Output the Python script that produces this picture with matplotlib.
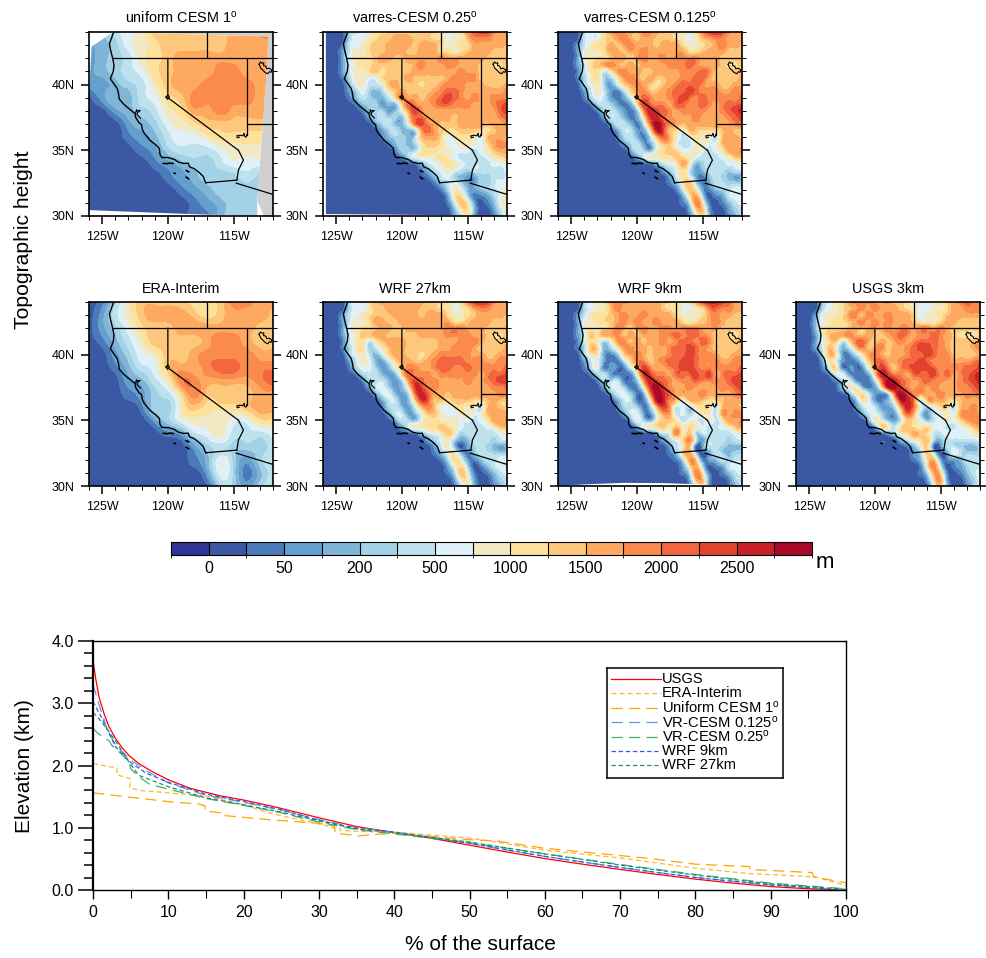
import numpy as np
import matplotlib
matplotlib.use('Agg')
import matplotlib.pyplot as plt
import matplotlib.tri as mtri
from matplotlib.colors import ListedColormap, BoundaryNorm
from matplotlib.cm import ScalarMappable
from matplotlib.patches import Polygon

plt.rcParams['font.family'] = ['Liberation Sans', 'DejaVu Sans']
plt.rcParams['mathtext.fontset'] = 'custom'
plt.rcParams['mathtext.rm'] = 'Liberation Sans'
plt.rcParams['mathtext.default'] = 'rm'

# colour classes of the height scale, one char per class in the grids below
CLASSES = '0123456789abcdefg'
colors = ['#2f3592', '#3b58a4', '#4a7ab7', '#659fcd', '#80b5d8', '#a3d2e6', '#bde2ee', '#dff1f7',
          '#f0e9c3', '#fde19a', '#fec87c', '#fdaa60', '#fb8a4d', '#f4663f', '#e2432e', '#c92226', '#a90a28']
cbar_labels = ['0', '50', '200', '500', '1000', '1500', '2000', '2500']

# 1 degree grids, rows from 44N down to 30N, columns 126W to 112W
uniform_cesm = ['34678aaaaaabbcc', '345789aaaaabbbb', '345689abbbbbbbb', '345679abbbccbbb', '334568abbccccbb',
                '1344679acccccbb', '11345689bbcbbbb', '111345789aaaaaa', '111234677899999', '111123566678888',
                '111112345567777', '111111234555655', '111111123455555', '111111112345555', '111111112245555']
era_interim = ['1258aaaa99accbb', '1368abbba9abbba', '13579aabbbbbbaa', '12468aaaabccbaa', '113578aabccccbb',
               '112467abbcddccc', '1113468ccbbbbcd', '11123569caaaabb', '11112558a999abb', '111113578887799',
               '111111236786667', '111111113565556', '111111112475356', '111111111375246', '111111111155356']

# half degree grids, same order
varres_025 = [
    '1111 5678 99aa aaaa a988 89bd eecbb', '1111 5778 9aab bbaa a997 88ac ccbbb',
    '1112 6789 aabb bbab bb98 899b bbbba', '1113 6889 aabb baab bb99 89ab bbaaa',
    '1113 7899 abba abbb bbcb bbbb baaaa', '1113 6899 aaaa aabc bbbc cbbb aa99a',
    '1113 6889 a9aa aabb bbbb bcbb aaaaa', '1112 5887 79aa abaa aaab cccc aaaaa',
    '1111 4786 67ab aaa9 aabc ccbb baaab', '1111 3575 458a baaa abcd dcbb bbbbc',
    '1111 2465 4469 cbba bcde dcbc bbccc', '1111 1245 5344 9dcb bcdd cccb bbcde',
    '1111 1124 5534 7bec bbbb bbbb bbbde', '1111 1113 5655 49dd bbbb abbb bbbcd',
    '1111 1111 3564 47ce cbaa abbb babbc', '1111 1111 1356 445b dba9 9aaa 99abb',
    '1111 1111 1245 545a bb97 8998 7abba', '1111 1111 1124 5458 aa97 7888 79bcb',
    '1111 1111 1112 5558 9988 7776 78abb', '1111 1111 1111 2578 8898 7666 6789a',
    '1111 1111 1111 1124 6789 8766 66778', '1111 1111 1111 1112 4678 7656 66667',
    '1111 1111 1111 1111 2467 5433 55667', '1111 1111 1111 1111 1246 7533 55677',
    '1111 1111 1111 1111 1125 8743 45678', '1111 1111 1111 1111 1113 8952 23578',
    '1111 1111 1111 1111 1112 6a83 12478', '1111 1111 1111 1111 1111 4894 11368',
    '1111 1111 1111 1111 1111 3693 11258']
varres_0125 = [
    '1111 5779 bcbb accb aa98 89ce fecbb', '1111 6779 abcb abba aa98 78ab ccbbb',
    '1113 6899 babc bbba bbb9 889a bcbba', '1113 7889 bbab bcbb bbbb 99ab bbaaa',
    '1113 7899 abba bcbb cbcc ccbb baaaa', '1113 69ab cbab abbb bccc dcbb ba99a',
    '1112 6896 8bcb baab bbbc ccdc aaaaa', '1112 5895 58bc baba abbc cddb aaaab',
    '1111 5785 369b cba9 abcd ddcb baabb', '1111 3686 3259 bcaa bcdd edcc cbbcc',
    '1111 2576 3236 adcb bcde dcdc ccccd', '1111 1256 5323 8edc cbdd ccdc bcdde',
    '1111 1125 6532 4bfe dcbc cccb bcdef', '1111 1113 6642 38ef dcbb bcbb bbcde',
    '1111 1111 3664 25cg ecba bbbb bbbcd', '1111 1111 1366 338f ea97 aa99 9abaa',
    '1111 1111 1256 425a db86 7988 6abba', '1111 1111 1135 6337 aa76 6887 7abbb',
    '1111 1111 1113 6537 9a97 7876 78bbc', '1111 1111 1111 3688 99a9 8766 678aa',
    '1111 1111 1111 1124 678b 8456 66778', '1111 1111 1111 1111 3579 6346 66566',
    '1111 1111 1111 1111 1369 7324 65434', '1111 1111 1111 1111 1248 a523 66555',
    '1111 1111 1111 1111 1126 a832 45677', '1111 1111 1111 1111 1113 8b51 23677',
    '1111 1111 1111 1111 1112 5c82 12467', '1111 1111 1111 1111 1111 39a3 11356',
    '1111 1111 1111 1111 1111 2694 11246']
wrf_27 = [
    '1111 6779 abbb bbbb aa98 89ce fecbb', '1111 5778 aabb bbba aa99 789b ccbbb',
    '1113 6789 aaab bbba bbb9 889a bbbba', '1113 6889 bbaa bbbb bbbb 99ab bbaaa',
    '1113 7899 abba abbb bbbc ccbb baaaa', '1113 68aa bbaa aaab bbbc cccb ba99a',
    '1112 6896 8abb baaa aabb bccc baaaa', '1112 5895 68ab baaa aabb cccb aaaab',
    '1111 5786 469b baa9 abcc cccb baabb', '1111 3687 4369 bbaa bcdd ddcc cbbcc',
    '1111 2577 5347 accb bcdd ccdc ccccd', '1111 1256 6434 9dcc cbcc cccc bcdde',
    '1111 1125 6643 5bed ccbb bbcb bcdee', '1111 1113 6753 48ee ccbb bbbb bbccd',
    '1111 1111 3674 35cf dbba bbbb bbbcc', '1111 1111 1366 349e daa9 aaa9 9abaa',
    '1111 1111 1256 436a ca77 8988 6abaa', '1111 1111 1136 6347 aa87 7887 7abbb',
    '1111 1111 1113 6547 9988 8776 78bbc', '1111 1111 1111 3688 99a9 8766 678aa',
    '1111 1111 1111 1124 678a 8566 66678', '1111 1111 1111 1111 3578 5346 66566',
    '1111 1111 1111 1111 1368 4135 65434', '1111 1111 1111 1111 1247 8424 66555',
    '1111 1111 1111 1111 1125 9732 46677', '1111 1111 1111 1111 1113 7951 24677',
    '1111 1111 1111 1111 1112 5a72 12467', '1111 1111 1111 1111 1111 3883 11356',
    '1111 1111 1111 1111 1111 2584 11246']
wrf_9 = [
    '1111 6789 bccb bbbb a989 9bef fedbb', '1111 5788 acbb bbbb a997 789c dccbb',
    '1113 6899 abcb bcbb bb98 889b cbbaa', '1113 7899 abcb cbbc bbb9 89ab cbaaa',
    '1113 7889 acba bcbb ccbc ccbb baaaa', '1113 6a9b bcab abbb ccdc ddcb aa99a',
    '1112 6985 7bca babb cbcd dcdc aaaaa', '1112 5a94 58bc bbab bcdd edcb aaaab',
    '1111 5883 249b cbab bcdd edcc baabb', '1111 3673 2259 ccab cdde edcc cbbcc',
    '1111 2572 3226 aecb bcde edcc ccccd', '1111 1256 3222 7eec cbdd dede bcdde',
    '1111 1125 5622 4bfe dcbc cdcc ccdee', '1111 1113 6752 27eg ecbb cbbb bccde',
    '1111 1111 3675 23bg fdbb bbcb bbbcd', '1111 1111 1366 227f fca7 aba9 9abbb',
    '1111 1111 1256 524a eb67 5899 6abba', '1111 1111 1136 7327 bb67 5788 6bbcb',
    '1111 1111 1113 7537 aa86 7768 68bbc', '1111 1111 1111 3789 a8a8 9876 678ab',
    '1111 1111 1111 1113 67c8 a566 66678', '1111 1111 1111 1111 3579 c636 66566',
    '1111 1111 1111 1111 1368 a136 65444', '1111 1111 1111 1111 1249 b413 65455',
    '1111 1111 1111 1111 1125 b923 46566', '1111 1111 1111 1111 1113 8b51 23677',
    '1111 1111 1111 1111 1112 5c82 12467', '1111 1111 1111 1111 1111 3aa3 11256',
    '1111 1111 1111 1111 1111 26a3 11246']
usgs_3 = [
    '1111 5789 bcbc bbca a988 789a bcdcc', '1111 5789 abcb cbbb a987 7889 bbccc',
    '1113 7889 bcac bbcb bb97 889a bbbbb', '1114 7899 abcb cbcb bba8 889b baaaa',
    '1114 8999 abab bbcb ccbc cbcb aaaaa', '1113 7abb cbab aabc dcbc cdcb a998a',
    '1113 79a6 8cdb abab cbcd ddcb aaaab', '1113 6a84 59ca bcab bcde edcb aaabc',
    '1111 5a93 258b cbab bcdd edcc aaaab', '1111 3873 2259 cdbb cdde dccc bbbcd',
    '1111 2692 2227 beca cdee edcc ccdde', '1111 1267 3223 9fec cbdd decd bcdef',
    '1111 1125 7322 5cgf dcbc dccb bcdef', '1111 1114 7842 38fg ecbc bcbb bccde',
    '1111 1111 3796 324c gecb bbcb bbccd', '1111 1111 1387 3248 ffc6 abba 9abbb',
    '1111 1111 1257 6335 bfc7 5799 6abca', '1111 1111 1136 7533 8da5 3678 7bccb',
    '1111 1111 1113 8743 6a97 4678 79bcc', '1111 1111 1111 3986 9a98 9776 678ab',
    '1111 1111 1111 1135 89ba 9667 77789', '1111 1111 1111 1111 4689 a546 66667',
    '1111 1111 1111 1111 1247 9126 65445', '1111 1111 1111 1111 1135 a513 76555',
    '1111 1111 1111 1111 1124 9a32 34666', '1111 1111 1111 1111 1112 8c61 23566',
    '1111 1111 1111 1111 1112 5b92 12467', '1111 1111 1111 1111 1111 39b3 11357',
    '1111 1111 1111 1111 1111 17a4 11257']

# outlines
coast_lon = [-124.12, -124.3, -124.45, -124.35, -124.2, -124.1, -124.15, -124.38, -124.1, -123.85, -123.75, -123.7,
             -123.35, -123.0, -122.75, -122.5, -122.45, -122.2, -122.0, -121.95, -121.8, -121.35, -120.9, -120.65,
             -120.6, -120.45, -120.0, -119.5, -119.2, -118.8, -118.45, -118.35, -118.0, -117.6, -117.3, -117.2, -117.12]
coast_lat = [44, 43.5, 43.1, 42.6, 42, 41.5, 41, 40.45, 40.05, 39.7, 39.3, 38.9,
             38.5, 38.2, 38.0, 37.8, 37.5, 37.1, 36.95, 36.6, 36.3, 35.75, 35.4, 35.15,
             34.7, 34.45, 34.45, 34.3, 34.1, 34.0, 34.02, 33.75, 33.6, 33.3, 33.0, 32.7, 32.53]
borders = [
    ([-124.2, -112], [42, 42]),
    ([-117, -117], [42, 44]),
    ([-120, -120, -114.63], [42, 39, 35]),
    ([-114, -114], [42, 36.2]),
    ([-114, -112], [37, 37]),
    ([-114.63, -114.25, -114.63, -114.75], [35, 34.25, 33.5, 32.73]),
    ([-117.12, -114.75], [32.53, 32.73]),
    ([-114.8, -112], [32.5, 31.64]),
]
lakes = [
    ([-120.14, -120.0, -119.88, -120.02, -120.14], [39.05, 39.22, 39.05, 38.88, 39.05]),
    ([-113.06, -112.95, -112.85, -112.7, -112.72, -112.55, -112.47, -112.3, -112.09, -112.15, -112.28, -112.4, -112.6,
      -112.75, -112.93, -113.06],
     [41.55, 41.72, 41.62, 41.66, 41.45, 41.4, 41.2, 41.25, 41.11, 40.93, 40.98, 40.82, 40.92, 41.08, 41.25, 41.55]),
    ([-114, -114.05, -114.15, -114.2, -114.3, -114.5, -114.75, -114.72, -114.55],
     [36.2, 36.0, 36.05, 36.3, 36.1, 36.15, 36.1, 35.95, 36.0]),
    ([-122.45, -122.38, -122.4, -122.25, -122.1, -122.3, -122.35, -122.15, -122.08],
     [37.85, 38.08, 37.98, 38.02, 38.02, 37.88, 37.72, 37.52, 37.45]),
]
islands = [
    ([-120.35, -120.0, -119.9, -119.6], [34.0, 33.98, 34.02, 34.0]),
    ([-119.52, -119.44], [33.26, 33.24]),
    ([-118.6, -118.42], [33.45, 33.36]),
    ([-118.6, -118.42], [32.95, 32.83]),
]

# where the models have data
uniform_edge_lon = [-125.8, -124.15, -112.35, -112.45, -113.2, -113.2, -118.4, -126, -126]
uniform_edge_lat = [42.88, 44, 43.65, 41.4, 31.2, 30, 30.15, 30.45, 39.4]
uniform_grey_lon = [-124.15, -112.35, -112.45, -113.2, -112.7, -112, -112, -124.15]
uniform_grey_lat = [44, 43.65, 41.4, 31.2, 30, 30, 44, 44]
varres_edge_lon = [-125.78, -112, -112, -113, -125.78]
varres_edge_lat = [44, 44, 30, 30.03, 30.15]
wrf9_edge_lon = [-126, -112, -112, -113, -115, -118, -121, -124, -126]
wrf9_edge_lat = [44, 44, 30, 30, 30.12, 30.22, 30.24, 30.12, 30]

# elevation against % of the surface
usgs_x = [0, 0.35, 0.8, 1.5, 2.1, 3, 3.9, 4.8, 6.1, 7.9, 10, 13, 17, 20, 24, 30, 35, 40, 45, 50, 55, 60, 65, 70, 75, 80, 85, 90, 95, 100]
usgs_y = [3.70, 3.40, 3.10, 2.82, 2.63, 2.43, 2.28, 2.16, 2.03, 1.90, 1.77, 1.63, 1.51, 1.445, 1.34, 1.16, 1.02, 0.92, 0.83, 0.72, 0.61, 0.505, 0.415, 0.33, 0.25, 0.175, 0.11, 0.055, 0.02, 0.0]
era_x = [0, 3.2, 3.2, 4.9, 4.9, 6.1, 10, 15, 19.9, 23, 30, 32, 32.8, 32.8, 35.4, 40, 50, 53, 60, 70, 80, 87, 96, 100]
era_y = [2.03, 1.96, 1.85, 1.79, 1.64, 1.60, 1.56, 1.51, 1.375, 1.25, 1.06, 1.0, 1.0, 0.96, 0.94, 0.93, 0.835, 0.78, 0.64, 0.515, 0.35, 0.265, 0.21, 0.07]
uni_x = [0, 5.7, 10, 14.1, 14.9, 14.9, 17, 17, 23.9, 30, 32, 32.2, 35.4, 37, 40, 45.2, 50, 53.5, 60, 73.7, 80, 87.2, 87.2, 95.5, 95.7, 100]
uni_y = [1.56, 1.48, 1.42, 1.38, 1.35, 1.27, 1.24, 1.20, 1.125, 1.07, 1.03, 0.91, 0.87, 0.89, 0.91, 0.857, 0.807, 0.79, 0.67, 0.51, 0.415, 0.376, 0.33, 0.28, 0.21, 0.115]
vr125_x = [0, 0.5, 1, 2, 3, 5, 7, 10, 15, 20, 25, 30, 35, 40, 45, 50, 55, 60, 65, 70, 75, 80, 85, 90, 95, 100]
vr125_y = [3.30, 3.10, 2.90, 2.55, 2.33, 2.09, 1.92, 1.72, 1.52, 1.41, 1.28, 1.13, 1.00, 0.93, 0.85, 0.75, 0.64, 0.54, 0.45, 0.365, 0.28, 0.205, 0.14, 0.085, 0.04, 0.0]
vr25_x = [0, 0.6, 2.1, 2.6, 3.9, 4.8, 5, 6.1, 7.5, 10, 15, 20, 25, 30, 35, 40, 50, 60, 70, 80, 90, 100]
vr25_y = [2.60, 2.52, 2.40, 2.31, 2.17, 2.05, 1.95, 1.82, 1.70, 1.62, 1.47, 1.36, 1.24, 1.09, 0.97, 0.90, 0.76, 0.58, 0.41, 0.25, 0.11, 0.02]
wrf9_x = [0, 1, 2, 3, 5, 7, 10, 15, 20, 25, 30, 35, 40, 50, 60, 70, 80, 90, 100]
wrf9_y = [3.03, 2.80, 2.55, 2.30, 2.05, 1.88, 1.73, 1.54, 1.42, 1.29, 1.12, 0.99, 0.93, 0.75, 0.54, 0.36, 0.20, 0.08, 0.0]
wrf27_x = [0, 0.6, 2.1, 3.5, 4.8, 6.1, 10, 15, 20, 25, 30, 35, 40, 50, 60, 70, 80, 90, 100]
wrf27_y = [2.85, 2.78, 2.55, 2.30, 2.05, 1.84, 1.66, 1.48, 1.37, 1.25, 1.11, 0.98, 0.92, 0.77, 0.58, 0.40, 0.24, 0.10, 0.01]

W, H = 986.0, 958.0
fig = plt.figure(figsize=(9.86, 9.58), dpi=100)


def ax_px(left, top, width, height):
    return fig.add_axes([left / W, 1 - (top + height) / H, width / W, height / H])


def parse(rows):
    return np.array([[CLASSES.index(c) for c in r.replace(' ', '')] for r in rows], dtype=float)


levels = np.arange(-0.5, 17.5, 1.0)


def draw_map(left, top, title, rows, edge=None, grey=None):
    ax = ax_px(left, top, 184, 184)
    z = parse(rows)
    lon, lat = np.meshgrid(np.linspace(-126, -112, z.shape[1]), np.linspace(44, 30, z.shape[0]))
    tri = mtri.Triangulation(lon.ravel(), lat.ravel())
    tri_f, z_f = mtri.UniformTriRefiner(tri).refine_field(z.ravel(), subdiv=3)
    z_f = np.clip(z_f, max(z.min(), 0), 16)
    if grey is not None:
        ax.add_patch(Polygon(np.column_stack(grey), fc='#d0d0d0', ec='none', zorder=0))
    cs = ax.tricontourf(tri_f, z_f, levels=levels, colors=colors, zorder=1)
    if edge is not None:
        cs.set_clip_path(Polygon(np.column_stack(edge), transform=ax.transData))
    ax.plot(coast_lon, coast_lat, 'k', lw=1.0, zorder=3)
    for xs, ys in borders:
        ax.plot(xs, ys, 'k', lw=0.9, zorder=3)
    for xs, ys in lakes:
        ax.plot(xs, ys, 'k', lw=0.8, zorder=3)
    for xs, ys in islands:
        ax.plot(xs, ys, 'k', lw=1.2, zorder=3)
    ax.set_xlim(-126, -112)
    ax.set_ylim(30, 44)
    ax.set_xticks([-125, -120, -115])
    ax.set_xticklabels(['125W', '120W', '115W'])
    ax.set_yticks([30, 35, 40])
    ax.set_yticklabels(['30N', '35N', '40N'])
    ax.set_xticks(np.arange(-126, -111), minor=True)
    ax.set_yticks(np.arange(30, 45), minor=True)
    ax.tick_params(which='major', length=5.5, width=1.1, labelsize=9, pad=5, right=True)
    ax.tick_params(which='minor', length=2.7, width=0.7, right=True)
    for s in ax.spines.values():
        s.set_linewidth(1.2)
    ax.set_title(title, fontsize=10.4, pad=6.5)
    return ax


deg = r'$^{\mathrm{o}}$'
draw_map(89, 32, 'uniform CESM 1' + deg, uniform_cesm, (uniform_edge_lon, uniform_edge_lat), (uniform_grey_lon, uniform_grey_lat))
draw_map(323, 32, 'varres-CESM 0.25' + deg, varres_025, (varres_edge_lon, varres_edge_lat))
draw_map(558, 32, 'varres-CESM 0.125' + deg, varres_0125)
draw_map(89, 302, 'ERA-Interim', era_interim)
draw_map(323, 302, 'WRF 27km', wrf_27)
draw_map(558, 302, 'WRF 9km', wrf_9, (wrf9_edge_lon, wrf9_edge_lat))
draw_map(796, 302, 'USGS 3km', usgs_3)

fig.text(24 / W, 1 - 240 / H, 'Topographic height', rotation=90, ha='center', va='center', fontsize=15.2)

# colour bar
cax = ax_px(171, 542, 641, 13)
sm = ScalarMappable(norm=BoundaryNorm(np.arange(18), 17), cmap=ListedColormap(colors))
cb = fig.colorbar(sm, cax=cax, orientation='horizontal', drawedges=True, spacing='uniform')
cb.set_ticks(np.arange(1, 16, 2))
cb.set_ticklabels(cbar_labels)
cb.ax.tick_params(length=0, labelsize=11.5, pad=4)
cb.dividers.set_color('k')
cb.dividers.set_linewidth(0.8)
cb.outline.set_linewidth(0.8)
fig.text(825 / W, 1 - 563 / H, 'm', ha='center', va='center', fontsize=16)

# hypsometric curves
ax = ax_px(93, 641, 753, 249)
series = [
    (usgs_x, usgs_y, 'USGS', '#ff0000', '-'),
    (era_x, era_y, 'ERA-Interim', '#ffb733', (0, (4, 2.5))),
    (uni_x, uni_y, 'Uniform CESM 1' + deg, '#ffa500', (0, (9, 5))),
    (vr125_x, vr125_y, 'VR-CESM 0.125' + deg, '#6495ed', (0, (9, 5))),
    (vr25_x, vr25_y, 'VR-CESM 0.25' + deg, '#3cb371', (0, (9, 5))),
    (wrf9_x, wrf9_y, 'WRF 9km', '#2b5fe0', (0, (3.5, 2.2))),
    (wrf27_x, wrf27_y, 'WRF 27km', '#2e8b57', (0, (3.5, 2.2))),
]
for xs, ys, name, col, ls in series:
    ax.plot(xs, ys, color=col, ls=ls, lw=0.9)
ax.set_xlim(0, 100)
ax.set_ylim(0, 4)
ax.set_xticks(np.arange(0, 101, 10))
ax.set_xticks(np.arange(0, 101, 5), minor=True)
ax.set_yticks(np.arange(0, 4.1, 1))
ax.set_yticklabels(['0.0', '1.0', '2.0', '3.0', '4.0'])
ax.set_yticks(np.arange(0, 4.01, 0.2), minor=True)
ax.tick_params(axis='y', which='major', length=10.8, width=1.1, labelsize=11.5, pad=3)
ax.tick_params(axis='y', which='minor', length=6.5, width=1.1)
ax.tick_params(axis='x', which='major', length=6.5, width=1.0, labelsize=11.5, pad=4.5)
ax.tick_params(axis='x', which='minor', length=5.8, width=0.8)
for s in ax.spines.values():
    s.set_linewidth(1.0)
ax.spines['left'].set_linewidth(1.6)
fig.text(24 / W, 1 - 766 / H, 'Elevation (km)', rotation=90, ha='center', va='center', fontsize=15)
fig.text(480 / W, 1 - 945 / H, '% of the surface', ha='center', va='center', fontsize=15)

# legend box laid out by hand, in pixels of its own axes
leg = ax_px(607, 668, 176, 110)
leg.set_xlim(0, 176)
leg.set_ylim(110, 0)
leg.set_xticks([])
leg.set_yticks([])
for s in leg.spines.values():
    s.set_linewidth(1.1)
for i, (xs, ys, name, col, ls) in enumerate(series):
    y = 11 + 14.4 * i
    leg.plot([4, 54], [y, y], color=col, ls=ls, lw=0.9)
    leg.text(55, y, name, fontsize=10.6, va='center', ha='left')

fig.savefig('out.png', dpi=100)
